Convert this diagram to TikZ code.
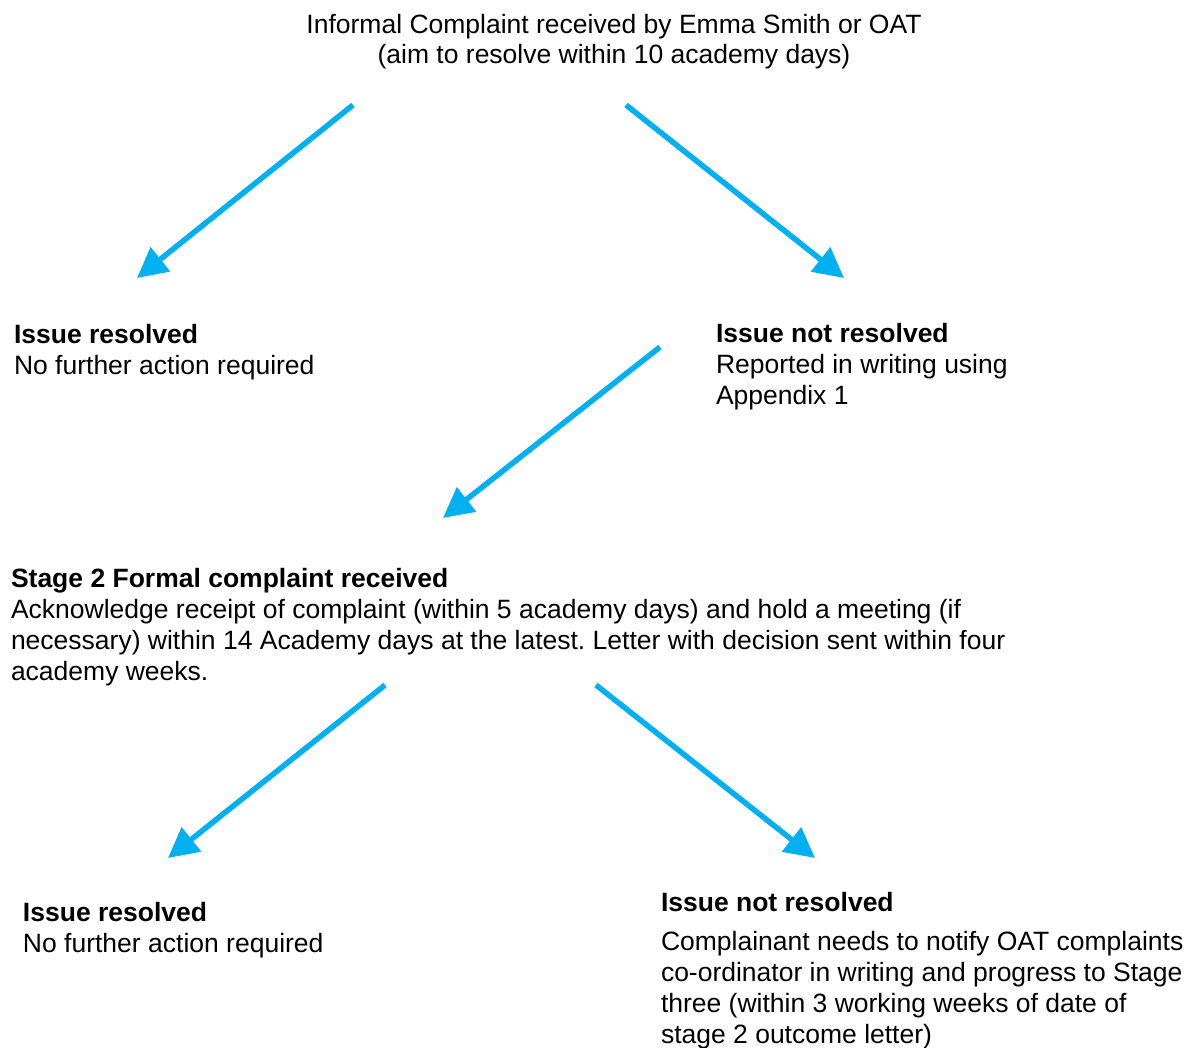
\documentclass[tikz,border=0pt]{standalone}
\usepackage{fontspec}
\setmainfont{Liberation Sans}
\usetikzlibrary{arrows.meta}
\definecolor{arrowblue}{HTML}{00B0F0}
\frenchspacing
\begin{document}
\begin{tikzpicture}[x=0.5pt,y=-0.5pt,
  txt/.style={inner sep=0pt, outer sep=0pt, align=left, anchor=base west,
    font=\fontsize{13.25pt}{15.35pt}\selectfont},
  ctxt/.style={txt, align=center, anchor=base},
  flow/.style={draw=arrowblue, line width=2.75pt,
    -{Triangle[length=15pt,width=15pt]}}]
\useasboundingbox (0,0) rectangle (1194,1048);

% anchors are at the baseline of each block's last line
\node[ctxt] (top) at (614,64) {Informal Complaint received by Emma Smith or OAT\\(aim to resolve within 10 academy days)};

\node[txt] (res1) at (14,374) {\textbf{Issue resolved}\\No further action required};
\node[txt] (nres1) at (716,404) {\textbf{Issue not resolved}\\Reported in writing using\\Appendix 1};

\node[txt] (stage2) at (11,680) {\textbf{Stage 2 Formal complaint received}\\Acknowledge receipt of complaint (within 5 academy days) and hold a meeting (if\\necessary) within 14 Academy days at the latest. Letter with decision sent within four\\academy weeks.};

\node[txt] (res2) at (23,952) {\textbf{Issue resolved}\\No further action required};
\node[txt] (nres2h) at (661,911) {\textbf{Issue not resolved}};
\node[txt] (nres2) at (661,1043) {Complainant needs to notify OAT complaints\\co-ordinator in writing and progress to Stage\\three (within 3 working weeks of date of\\stage 2 outcome letter)};

\coordinate (s1) at (353,105); \coordinate (e1) at (137,278);
\coordinate (s2) at (626,105); \coordinate (e2) at (844,278);
\coordinate (s3) at (660,347); \coordinate (e3) at (443,518);
\coordinate (s4) at (385,685); \coordinate (e4) at (168,858);
\coordinate (s5) at (596,685); \coordinate (e5) at (815,858);

\draw[flow] (s1) -- (e1);
\draw[flow] (s2) -- (e2);
\draw[flow] (s3) -- (e3);
\draw[flow] (s4) -- (e4);
\draw[flow] (s5) -- (e5);
\end{tikzpicture}
\end{document}
